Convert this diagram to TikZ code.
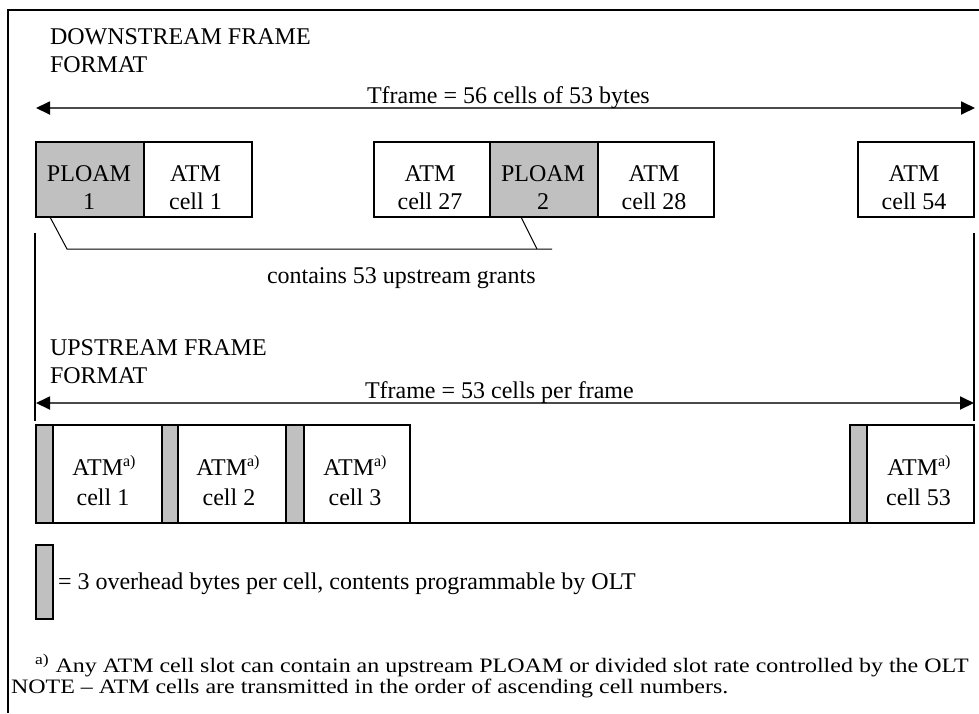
\documentclass[tikz,border=0pt]{standalone}
\usepackage{fontspec}
\setmainfont{Liberation Serif}
\newfontfamily\footfont[FakeStretch=1.17]{Liberation Serif}
\usetikzlibrary{arrows.meta}
\definecolor{cellgray}{HTML}{C0C0C0}
\definecolor{arrowgray}{HTML}{4A4A4A}
\newcommand{\supa}{\raisebox{9pt}{\fontsize{16}{16}\selectfont a)}}
\newcommand{\supfn}{\raisebox{7.5pt}{\fontsize{15}{15}\selectfont a)}}
\begin{document}
\begin{tikzpicture}[x=1pt,y=-1pt,
  txt/.style={inner sep=0pt, outer sep=0pt, font=\fontsize{24}{28}\selectfont},
  foot/.style={inner sep=0pt, outer sep=0pt, font=\footfont\fontsize{20.5}{21}\selectfont},
  cellbox/.style={draw=black, line width=1.3pt, inner sep=0pt, outer sep=0pt, fill=white},
  ovh/.style={cellbox, fill=cellgray},
  dcell/.style={minimum height=75pt},
  ucell/.style={minimum height=98pt},
  frameline/.style={draw=black, line width=1.2pt},
  thinline/.style={draw=black, line width=1pt},
  arr/.style={draw=arrowgray, line width=1.8pt,
    {Triangle[length=14pt,width=13pt,color=black]}-{Triangle[length=14pt,width=13pt,color=black]}}
]
\useasboundingbox (0,0) rectangle (979,713);

% outer frame
\coordinate (fbl) at (8,713);
\coordinate (ftl) at (8,10);
\coordinate (ftr) at (979,10);
\draw[frameline] (fbl) -- (ftl) -- (ftr);

% ---------- downstream ----------
\node[txt, anchor=base west] (dtitle1) at (50,44.5) {DOWNSTREAM FRAME};
\node[txt, anchor=base west] (dtitle2) at (50,72.5) {FORMAT};

\coordinate (darrL) at (36,108);
\coordinate (darrR) at (975,108);
\draw[arr] (darrL) -- (darrR);
\node[txt, anchor=base west] (dtf) at (367,103) {Tframe = 56 cells of 53 bytes};

\node[ovh, dcell, minimum width=108pt] (dp1) at (90,179.5) {};
\node[cellbox, dcell, minimum width=108pt] (da1) at (198,179.5) {};
\node[cellbox, dcell, minimum width=116pt] (da27) at (432,179.5) {};
\node[ovh, dcell, minimum width=108pt] (dp2) at (544,179.5) {};
\node[cellbox, dcell, minimum width=116pt] (da28) at (656,179.5) {};
\node[cellbox, dcell, minimum width=116pt] (da54) at (916,179.5) {};

\node[txt, anchor=base] (dp1a) at (89,181) {PLOAM};
\node[txt, anchor=base] (dp1b) at (89,209) {1};
\node[txt, anchor=base] (da1a) at (195.5,181) {ATM};
\node[txt, anchor=base] (da1b) at (195.5,209) {cell 1};
\node[txt, anchor=base] (da27a) at (430,181) {ATM};
\node[txt, anchor=base] (da27b) at (430,209) {cell 27};
\node[txt, anchor=base] (dp2a) at (543,181) {PLOAM};
\node[txt, anchor=base] (dp2b) at (543,209) {2};
\node[txt, anchor=base] (da28a) at (654,181) {ATM};
\node[txt, anchor=base] (da28b) at (654,209) {cell 28};
\node[txt, anchor=base] (da54a) at (914,181) {ATM};
\node[txt, anchor=base] (da54b) at (914,209) {cell 54};

% grants bracket
\coordinate (bk1) at (67,249);
\coordinate (bk2) at (552,249);
\coordinate (bk3) at (537,249);
\draw[thinline] ([xshift=14pt]dp1.south west) -- (bk1) -- (bk2);
\draw[thinline] ([xshift=-23pt]dp2.south) -- (bk3);
\node[txt, anchor=base west] (grants) at (267,283) {contains 53 upstream grants};

% side lines
\coordinate (vl1) at (35,233);
\coordinate (vl2) at (35,421);
\coordinate (vr1) at (974,233);
\coordinate (vr2) at (974,421);
\draw[frameline] (vl1) -- (vl2);
\draw[frameline] (vr1) -- (vr2);

% ---------- upstream ----------
\node[txt, anchor=base west] (utitle1) at (50,355) {UPSTREAM FRAME};
\node[txt, anchor=base west] (utitle2) at (50,383) {FORMAT};

\coordinate (uarrL) at (36,403);
\coordinate (uarrR) at (974,403);
\draw[arr] (uarrL) -- (uarrR);
\node[txt, anchor=base west] (utf) at (365,398) {Tframe = 53 cells per frame};

\node[ovh, ucell, minimum width=17pt] (ug1) at (44.5,474) {};
\node[cellbox, ucell, minimum width=109pt] (uc1) at (107.5,474) {};
\node[ovh, ucell, minimum width=16pt] (ug2) at (170,474) {};
\node[cellbox, ucell, minimum width=108pt] (uc2) at (232,474) {};
\node[ovh, ucell, minimum width=18pt] (ug3) at (295,474) {};
\node[cellbox, ucell, minimum width=106pt] (uc3) at (357,474) {};
\node[ovh, ucell, minimum width=17pt] (ug53) at (858.5,474) {};
\node[cellbox, ucell, minimum width=107pt] (uc53) at (920.5,474) {};

\coordinate (gapstart) at (348,523);
\draw[frameline] (gapstart) -- (ug53.south west);

\node[txt, anchor=base] (uc1a) at (104,475) {ATM\supa};
\node[txt, anchor=base] (uc1b) at (103,505) {cell 1};
\node[txt, anchor=base] (uc2a) at (228,475) {ATM\supa};
\node[txt, anchor=base] (uc2b) at (229,505) {cell 2};
\node[txt, anchor=base] (uc3a) at (355,475) {ATM\supa};
\node[txt, anchor=base] (uc3b) at (355,505) {cell 3};
\node[txt, anchor=base] (uc53a) at (919,475) {ATM\supa};
\node[txt, anchor=base] (uc53b) at (918.5,505) {cell 53};

% legend
\node[ovh, minimum width=17pt, minimum height=74pt] (leg) at (44.5,582) {};
\node[txt, anchor=base west] (legt) at (58,589) {= 3 overhead bytes per cell, contents programmable by OLT};

% footnotes
\node[foot, anchor=base west] (fn1) at (35,672) {\supfn\hspace{7pt}Any ATM cell slot can contain an upstream PLOAM or divided slot rate controlled by the OLT};
\node[foot, anchor=base west] (fn2) at (11,693) {NOTE – ATM cells are transmitted in the order of ascending cell numbers.};
\end{tikzpicture}
\end{document}
